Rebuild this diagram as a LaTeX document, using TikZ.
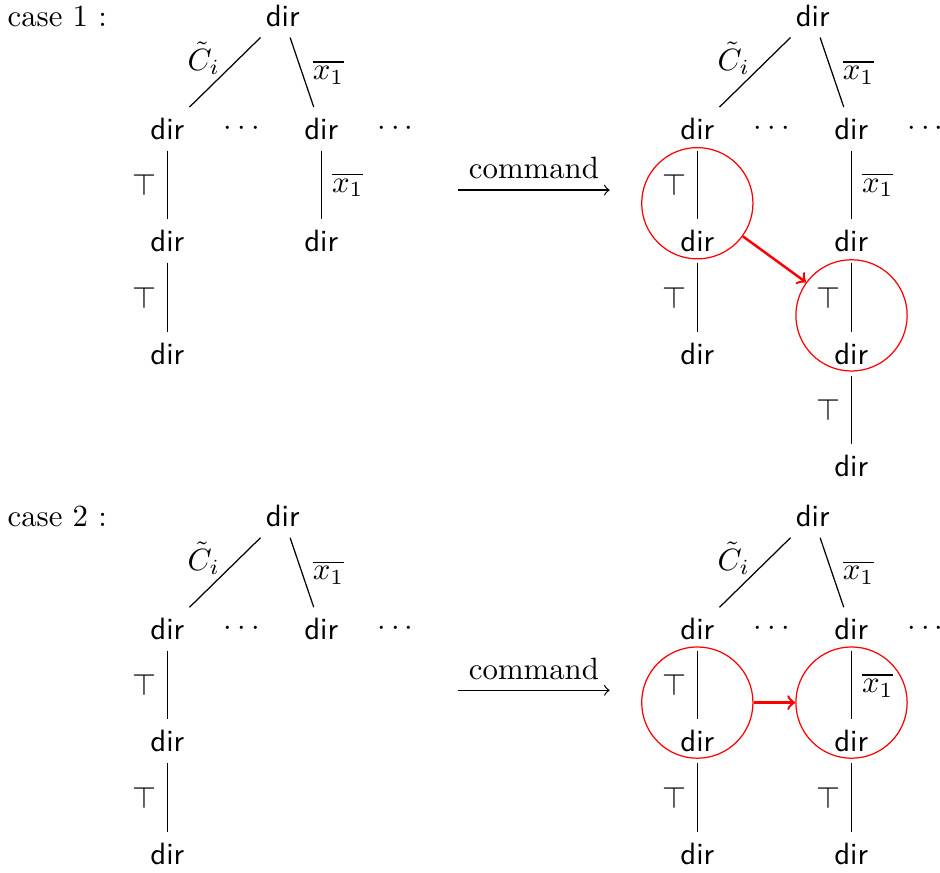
\documentclass[tikz,border=0pt]{standalone}
\usepackage{amsmath}
\usepackage{amssymb}
\usepackage{tikz}

\begin{document}
\begin{tikzpicture}[dirnode/.style={font=\sffamily},
	redcirc/.style={circle,draw=red,inner sep=0pt,minimum size=1.27cm},
	clabel/.style={midway,above left,inner sep=0pt,xshift=-1.5pt,yshift=-1pt}]
	\useasboundingbox (0,0) rectangle (10.73,-9.954);
	%case 1
	\path (0.08,-0.30) node(k1)[anchor=base west,inner sep=0pt]{case 1 :}
	(3.227,-0.18) node(a)[dirnode]{dir}
	(1.910,-1.47) node(a1)[dirnode]{dir}
	(2.788,-1.47) node(ad1){$\cdots$}
	(3.666,-1.47) node(a2)[dirnode]{dir}
	(4.544,-1.47) node(ad2){$\cdots$}
	(1.910,-2.75) node(a11)[dirnode]{dir}
	(1.910,-4.04) node(a111)[dirnode]{dir}
	(3.666,-2.75) node(a21)[dirnode]{dir};
	\draw (a)--(a1) node[clabel]{$\tilde{C}_i$};
	\draw (a)--(a2) node[midway,right]{$\overline{x_1}$};
	\draw (a1)--(a11) node[midway,left]{$\top$};
	\draw (a11)--(a111) node[midway,left]{$\top$};
	\draw (a2)--(a21) node[midway,right]{$\overline{x_1}$};
	\path (5.23,-2.17) coordinate(c1) (6.96,-2.17) coordinate(d1);
	\draw[->](c1)--(d1) node[midway,above]{command};
	\path (9.277,-0.18) node(b)[dirnode]{dir}
	(7.960,-1.47) node(b1)[dirnode]{dir}
	(8.838,-1.47) node(bd1){$\cdots$}
	(9.716,-1.47) node(b2)[dirnode]{dir}
	(10.594,-1.47) node(bd2){$\cdots$}
	(7.960,-2.75) node(b11)[dirnode]{dir}
	(7.960,-4.04) node(b111)[dirnode]{dir}
	(9.716,-2.75) node(b21)[dirnode]{dir}
	(9.716,-4.04) node(b211)[dirnode]{dir}
	(9.716,-5.32) node(b2111)[dirnode]{dir};
	\draw (b)--(b1) node[clabel]{$\tilde{C}_i$};
	\draw (b)--(b2) node[midway,right]{$\overline{x_1}$};
	\draw (b1)--(b11) node[midway,left]{$\top$};
	\draw (b11)--(b111) node[midway,left]{$\top$};
	\draw (b2)--(b21) node[midway,right]{$\overline{x_1}$};
	\draw (b21)--(b211) node[midway,left]{$\top$};
	\draw (b211)--(b2111) node[midway,left]{$\top$};
	\path (7.96,-2.32) node(o1)[redcirc]{} (9.72,-3.60) node(o2)[redcirc]{};
	\draw[red,thick,->](o1)--(o2);
	%case 2
	\path (0.08,-6.01) node(k2)[anchor=base west,inner sep=0pt]{case 2 :}
	(3.227,-5.89) node(e)[dirnode]{dir}
	(1.910,-7.18) node(e1)[dirnode]{dir}
	(2.788,-7.18) node(ed1){$\cdots$}
	(3.666,-7.18) node(e2)[dirnode]{dir}
	(4.544,-7.18) node(ed2){$\cdots$}
	(1.910,-8.46) node(e11)[dirnode]{dir}
	(1.910,-9.75) node(e111)[dirnode]{dir};
	\draw (e)--(e1) node[clabel]{$\tilde{C}_i$};
	\draw (e)--(e2) node[midway,right]{$\overline{x_1}$};
	\draw (e1)--(e11) node[midway,left]{$\top$};
	\draw (e11)--(e111) node[midway,left]{$\top$};
	\path (5.23,-7.88) coordinate(c2) (6.96,-7.88) coordinate(d2);
	\draw[->](c2)--(d2) node[midway,above]{command};
	\path (9.277,-5.89) node(f)[dirnode]{dir}
	(7.960,-7.18) node(f1)[dirnode]{dir}
	(8.838,-7.18) node(fd1){$\cdots$}
	(9.716,-7.18) node(f2)[dirnode]{dir}
	(10.594,-7.18) node(fd2){$\cdots$}
	(7.960,-8.46) node(f11)[dirnode]{dir}
	(7.960,-9.75) node(f111)[dirnode]{dir}
	(9.716,-8.46) node(f21)[dirnode]{dir}
	(9.716,-9.75) node(f211)[dirnode]{dir};
	\draw (f)--(f1) node[clabel]{$\tilde{C}_i$};
	\draw (f)--(f2) node[midway,right]{$\overline{x_1}$};
	\draw (f1)--(f11) node[midway,left]{$\top$};
	\draw (f11)--(f111) node[midway,left]{$\top$};
	\draw (f2)--(f21) node[midway,right]{$\overline{x_1}$};
	\draw (f21)--(f211) node[midway,left]{$\top$};
	\path (7.96,-8.02) node(o3)[redcirc]{} (9.72,-8.02) node(o4)[redcirc]{};
	\draw[red,thick,->](o3)--(o4);
\end{tikzpicture}
\end{document}
